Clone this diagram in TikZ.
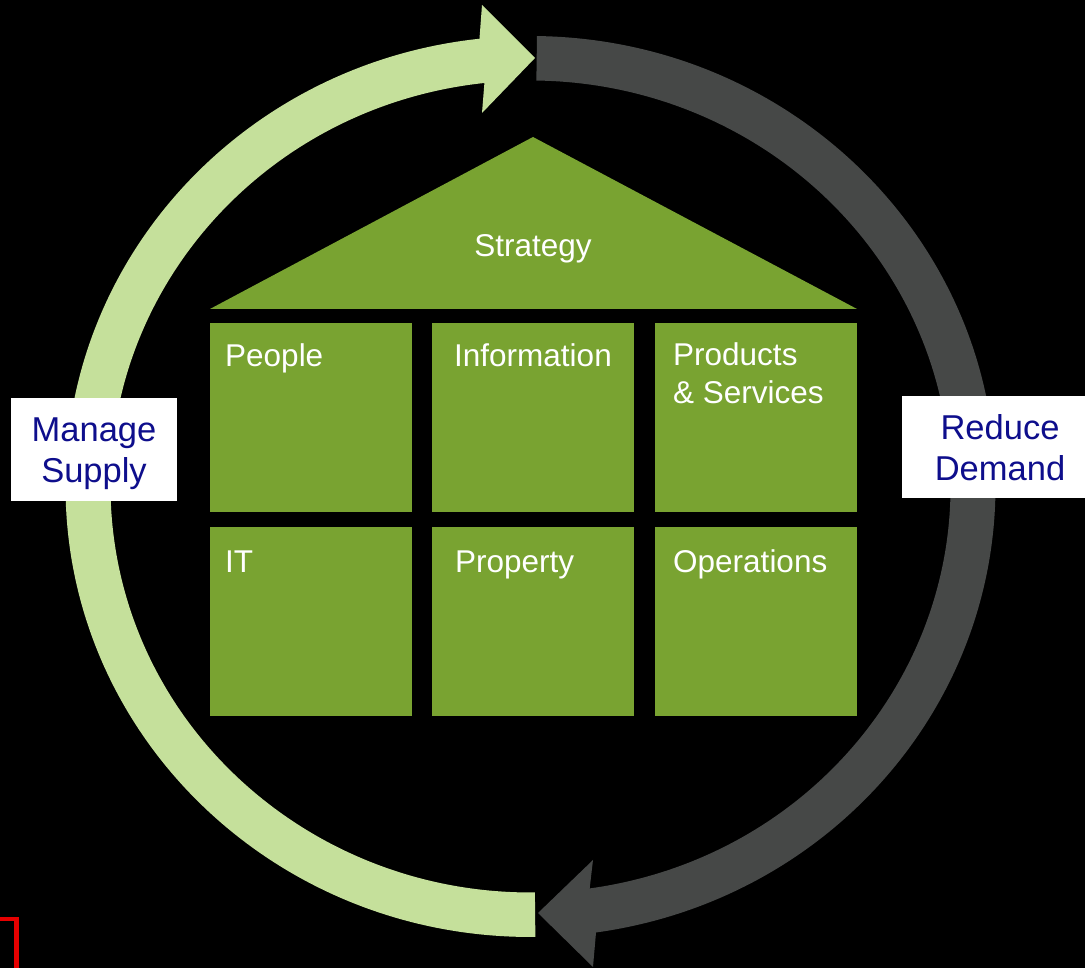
\documentclass[tikz,border=0pt]{standalone}
\usepackage{fontspec}
\setmainfont{Liberation Sans}
\usetikzlibrary{calc}
\definecolor{boxgreen}{RGB}{121,163,49}
\definecolor{lightgreen}{RGB}{197,224,155}
\definecolor{darkgrey}{RGB}{70,72,71}
\definecolor{labelblue}{RGB}{14,14,140}
\definecolor{markred}{RGB}{230,0,0}
\begin{document}
\begin{tikzpicture}[x=1pt,y=1pt,
  block/.style={fill=boxgreen, draw=none, minimum width=202pt, minimum height=189pt, inner sep=0pt, anchor=north west},
  blocktext/.style={text=white, font=\fontsize{31.5}{38}\selectfont, inner sep=0pt, align=left},
  tagbox/.style={fill=white, draw=none, inner sep=0pt},
  tagtext/.style={text=labelblue, font=\fontsize{34.5}{41}\selectfont, inner sep=0pt, align=center}]
\useasboundingbox (0,0) rectangle (1085,968);
\fill[black] (0,0) rectangle (1085,968);
\coordinate (C) at (530.5,481.5);
% light green arrow (left half, pointing to the top)
\coordinate (gtip) at (535,910);
\coordinate (gbo) at (482,963);
\coordinate (gbi) at (482,855);
\fill[lightgreen] ($(C)+(270.6:465pt and 450.5pt)$)
  arc[start angle=270.6, end angle=96.3, x radius=465pt, y radius=450.5pt]
  -- (gbo) -- (gtip) -- (gbi)
  -- ($(C)+(96.3:420pt and 406pt)$)
  arc[start angle=96.3, end angle=270.6, x radius=420pt, y radius=406pt]
  -- cycle;
% dark grey arrow (right half, pointing to the bottom)
\coordinate (dtip) at (538,55);
\coordinate (dbo) at (593,1);
\coordinate (dbi) at (593,108);
\fill[darkgrey] ($(C)+(89.2:465pt and 450.5pt)$)
  arc[start angle=89.2, end angle=-81.9, x radius=465pt, y radius=450.5pt]
  -- (dbo) -- (dtip) -- (dbi)
  -- ($(C)+(-81.9:420pt and 406pt)$)
  arc[start angle=-81.9, end angle=89.2, x radius=420pt, y radius=406pt]
  -- cycle;
% house roof
\coordinate (roofL) at (210,659);
\coordinate (roofT) at (533,831);
\coordinate (roofR) at (857,659);
\fill[boxgreen] (roofL) -- (roofT) -- (roofR) -- cycle;
\node[text=white, font=\fontsize{31.5}{38}\selectfont, inner sep=0pt, anchor=base] (strategy) at (533,711) {Strategy};
% blocks
\node[block] (people) at (210,645) {};
\node[block] (info) at (432,645) {};
\node[block] (prod) at (655,645) {};
\node[block] (it) at (210,441) {};
\node[block] (prop) at (432,441) {};
\node[block] (ops) at (655,441) {};
\node[blocktext, anchor=base west] (peopleT) at (225,601) {People};
\node[blocktext, anchor=base west] (infoT) at (454,601) {Information};
\node[blocktext, anchor=base west] (prodT) at (673,564) {Products\\\& Services};
\node[blocktext, anchor=base west] (itT) at (225,395) {IT};
\node[blocktext, anchor=base west] (propT) at (455,395) {Property};
\node[blocktext, anchor=base west] (opsT) at (673,395) {Operations};
% side labels
\node[tagbox, minimum width=166pt, minimum height=103pt] (manage) at (94,518.5) {};
\node[tagtext] (manageT) at (94,514) {Manage\\Supply};
\node[tagbox, minimum width=183pt, minimum height=102pt] (reduce) at (993.5,521) {};
\node[tagtext] (reduceT) at (1000,520) {Reduce\\Demand};
% red corner mark
\coordinate (m1) at (0,49);
\coordinate (m2) at (16.7,49);
\coordinate (m3) at (16.7,0);
\draw[markred, line width=4.5pt] (m1) -- (m2) -- (m3);
\end{tikzpicture}
\end{document}
